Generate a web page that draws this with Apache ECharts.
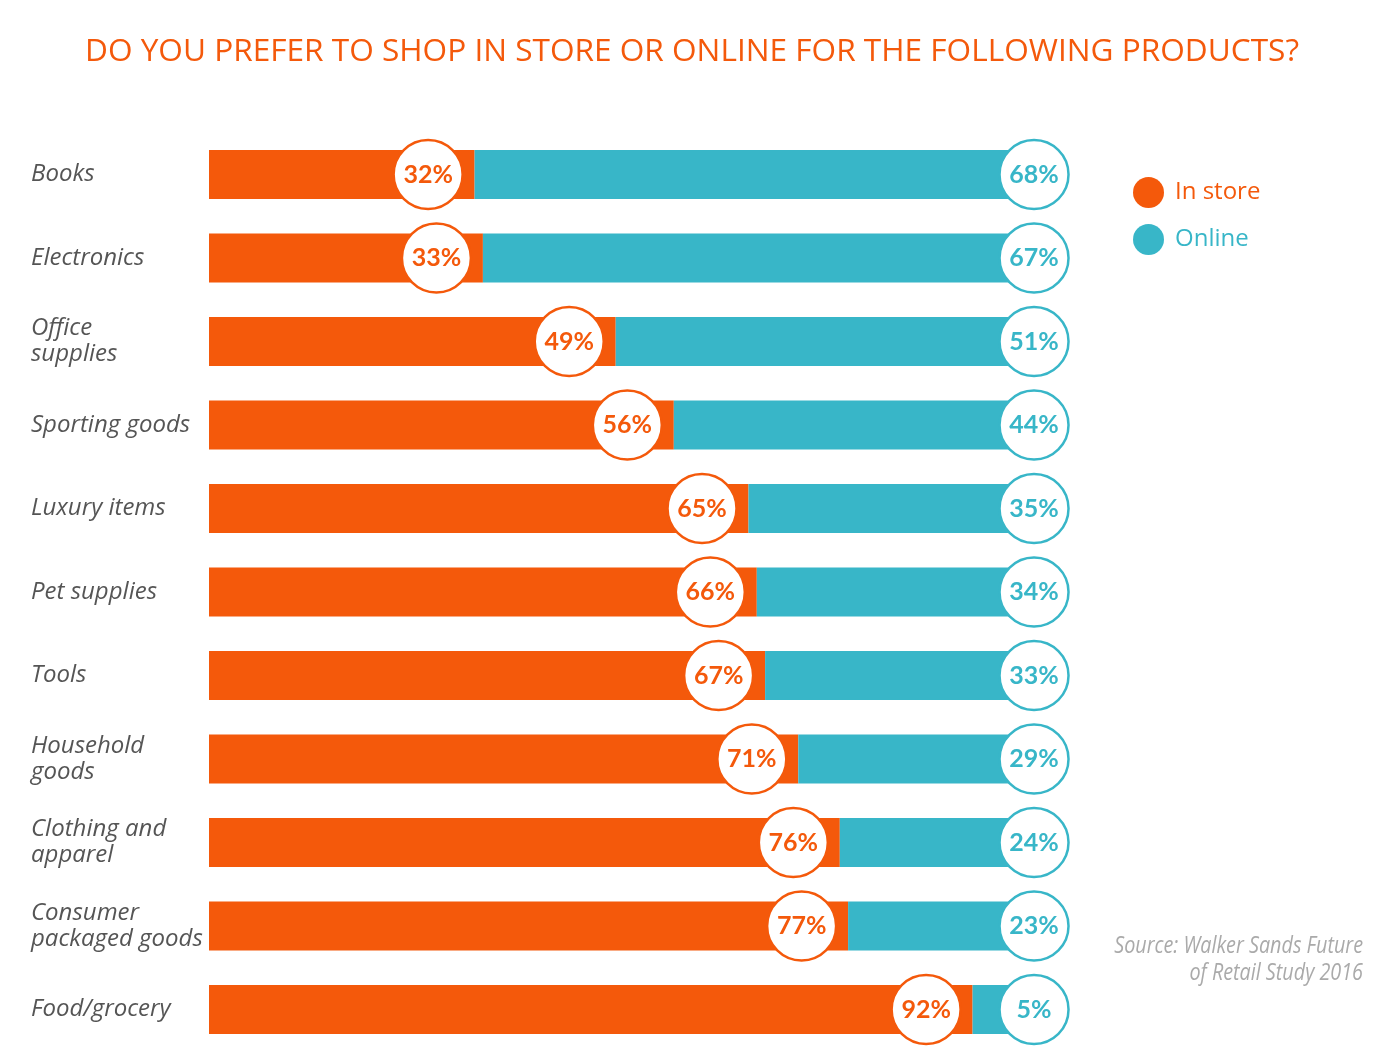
<!DOCTYPE html>
<html>
<head>
<meta charset="utf-8">
<script src="https://cdn.jsdelivr.net/npm/echarts@6/dist/echarts.min.js"></script>
<style>
    html, body { margin: 0; padding: 0; background: #fff; }
    #chart { width: 1384px; height: 1058px; }
</style>
</head>
<body>
<div id="chart"></div>
<script>
    // Data
    const categories = [
        'Books',
        'Electronics',
        'Office\nsupplies',
        'Sporting goods',
        'Luxury items',
        'Pet supplies',
        'Tools',
        'Household\ngoods',
        'Clothing and\napparel',
        'Consumer\npackaged goods',
        'Food/grocery'
    ];
    const in_store = [32, 33, 49, 56, 65, 66, 67, 71, 76, 77, 92];
    const online = [68, 67, 51, 44, 35, 34, 33, 29, 24, 23, 5];
    const source_lines = ['Source: Walker Sands Future', 'of Retail Study 2016'];

    const ORANGE = '#f4590b';
    const TEAL = '#38b6c8';
    const BADGE_FONT = 'Lato';

    // badge circle sits a little left of the end of the in-store segment
    const badge_offset = 5.6;
    const online_badge_x = 99.4;

    function badge_series(name, points, color) {
        return {
            name: name,
            type: 'scatter',
            z: 5,
            symbol: 'circle',
            symbolSize: 69,
            silent: true,
            itemStyle: {
                color: '#fff',
                borderColor: color,
                borderWidth: 2.5,
                opacity: 1
            },
            label: {
                show: true,
                position: 'inside',
                formatter: p => p.data.pct + '%',
                color: color,
                fontFamily: BADGE_FONT,
                fontWeight: 'bold',
                fontSize: 25
            },
            data: points
        };
    }

    const chart = echarts.init(document.getElementById('chart'));

    chart.setOption({
        animation: false,
        title: {
            text: 'DO YOU PREFER TO SHOP IN STORE OR ONLINE FOR THE FOLLOWING PRODUCTS?',
            left: 'center',
            top: 31,
            textStyle: {
                color: ORANGE,
                fontFamily: 'Open Sans',
                fontWeight: 'normal',
                fontSize: 31.6
            }
        },
        legend: {
            orient: 'vertical',
            left: 1128,
            top: 172,
            itemWidth: 31,
            itemHeight: 31,
            itemGap: 16,
            icon: 'circle',
            textStyle: {
                fontFamily: 'Open Sans',
                fontSize: 24,
                padding: [0, 0, 0, 6]
            },
            data: [
                { name: 'In store', textStyle: { color: ORANGE } },
                { name: 'Online', textStyle: { color: TEAL } }
            ]
        },
        grid: {
            left: 209,
            top: 132.75,
            width: 830,
            height: 918.5
        },
        xAxis: {
            type: 'value',
            min: 0,
            max: 100,
            show: false
        },
        yAxis: {
            type: 'category',
            inverse: true,
            data: categories,
            axisLine: { show: false },
            axisTick: { show: false },
            axisLabel: {
                align: 'left',
                margin: 178,
                color: '#555',
                fontFamily: 'Open Sans',
                fontStyle: 'italic',
                fontSize: 24,
                lineHeight: 26,
                padding: [10, 0, 0, 0]
            }
        },
        series: [
            {
                name: 'In store',
                type: 'bar',
                stack: 'share',
                barWidth: 49,
                itemStyle: { color: ORANGE },
                data: in_store
            },
            {
                name: 'Online',
                type: 'bar',
                stack: 'share',
                barWidth: 49,
                itemStyle: { color: TEAL },
                data: online
            },
            badge_series('in_store_badge',
                in_store.map((v, i) => ({ value: [v - badge_offset, i], pct: v })), ORANGE),
            badge_series('online_badge',
                online.map((v, i) => ({ value: [online_badge_x, i], pct: v })), TEAL)
        ],
        graphic: source_lines.map((line, i) => ({
            type: 'text',
            x: 1363,
            y: 946 + i * 27,
            scaleX: 0.86,
            style: {
                text: line,
                align: 'right',
                verticalAlign: 'middle',
                fill: '#aaa',
                font: 'italic 23px "Open Sans"'
            }
        }))
    });
</script>
</body>
</html>
